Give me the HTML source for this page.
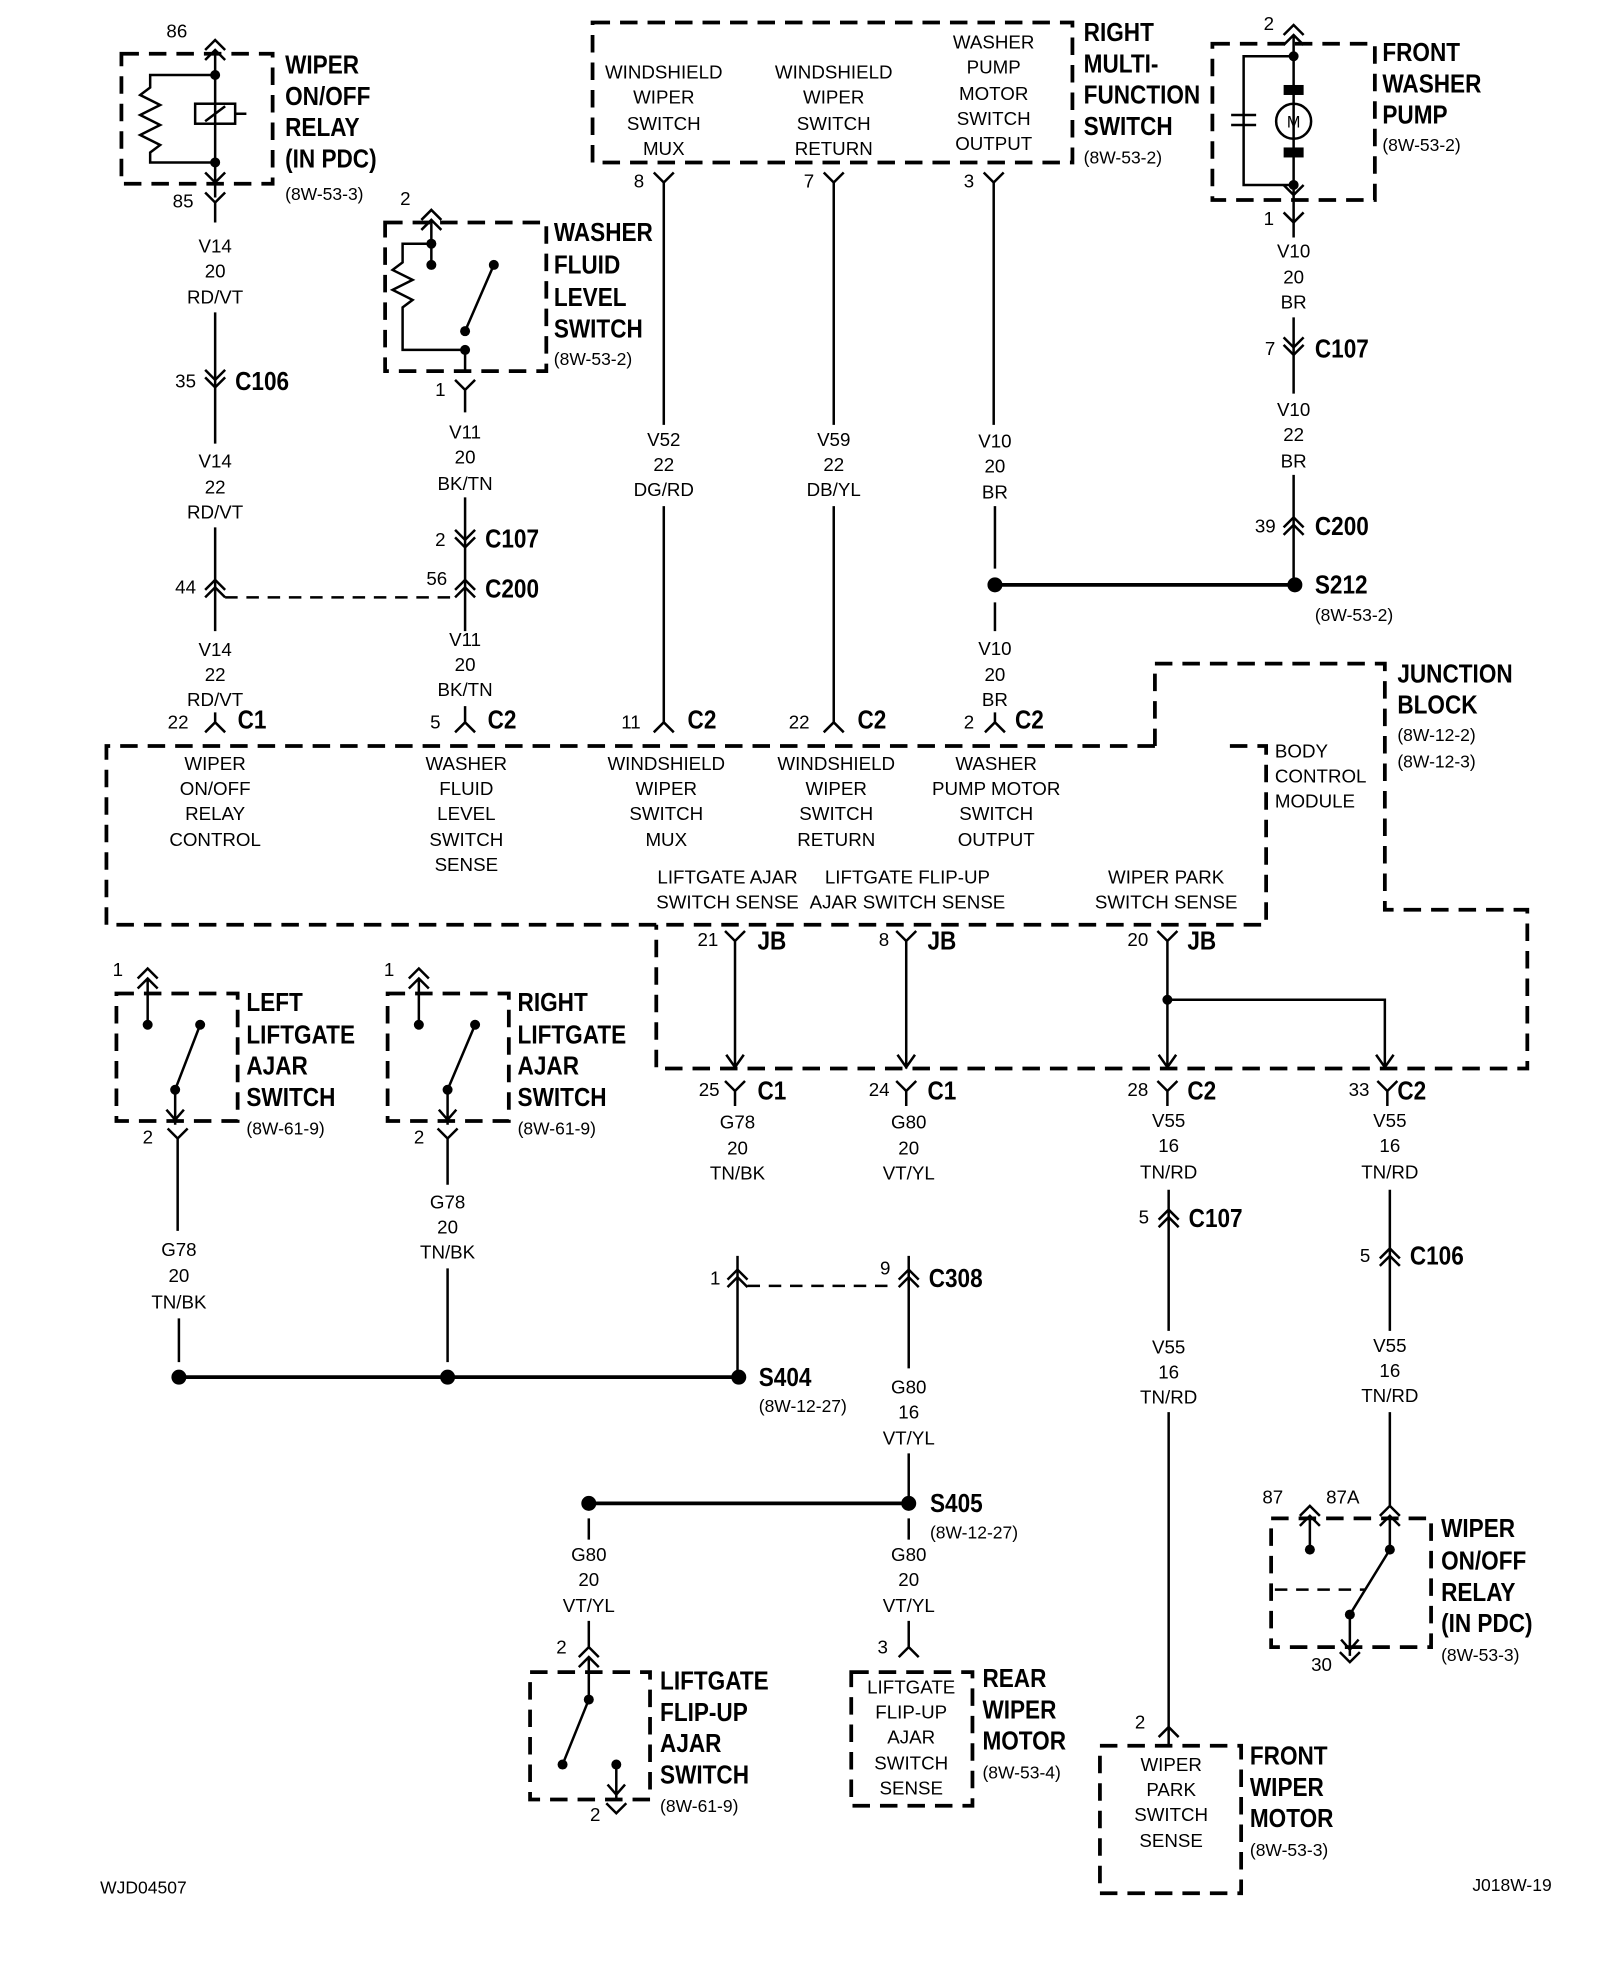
<!DOCTYPE html>
<html><head><meta charset="utf-8"><style>
html,body{margin:0;padding:0;background:#fff}
svg{display:block}
text{font-family:"Liberation Sans Narrow","Liberation Sans",sans-serif;fill:#000}
.n{font-size:15px;text-anchor:middle}
.l{font-size:15px}
.b{font-size:21px;font-weight:bold;transform-box:fill-box;transform-origin:0 0;transform:scaleX(.86)}
.r{font-size:14px}
.w{stroke:#000;stroke-width:2;fill:none}
.d{stroke:#000;stroke-width:3;fill:none;stroke-dasharray:14 8}
.dd{stroke:#000;stroke-width:2;fill:none;stroke-dasharray:10 7}
</style></head><body>
<svg width="1600" height="1962" viewBox="0 0 1280 1570" xmlns="http://www.w3.org/2000/svg">
<!-- WIPER RELAY TOP -->
<rect x="97" y="43" width="121" height="104" class="d"/>
<text class="b" x="228" y="59">WIPER</text><text class="b" x="228" y="84">ON/OFF</text><text class="b" x="228" y="109">RELAY</text><text class="b" x="228" y="134">(IN PDC)</text><text class="r" x="228" y="160">(8W-53-3)</text>
<text class="l" x="133" y="30">86</text><path class="w" d="M164 40 L172 32 L180 40 M164 48 L172 40 L180 48 M172 40 V158"/>
<circle cx="172" cy="60" r="4"/><circle cx="172" cy="130" r="4"/>
<path class="w" d="M172 60 H120 V70 l-8 6 l16 8 l-16 8 l16 8 l-16 8 l16 8 l-8 6 V130 H172"/>
<rect x="156" y="83" width="32" height="16" class="w"/><path class="w" d="M164 97 L180 85 M188 91 H197"/>
<path class="w" d="M164 138 L172 146 L180 138"/>
<text class="l" x="138" y="166">85</text><path class="w" d="M164 154 L172 162 L180 154 M172 162 V178"/>
<text class="n" x="172" y="202">V14</text><text class="n" x="172" y="222">20</text><text class="n" x="172" y="243">RD/VT</text>
<path class="w" d="M172 250 V355"/>
<text class="l" x="140" y="310">35</text><path class="w" d="M164 296 L172 304 L180 296 M164 302 L172 310 L180 302"/><text class="b" x="188" y="312">C106</text>
<text class="n" x="172" y="374">V14</text><text class="n" x="172" y="395">22</text><text class="n" x="172" y="415">RD/VT</text>
<path class="w" d="M172 422 V505"/>
<text class="l" x="140" y="475">44</text><path class="w" d="M164 472 L172 464 L180 472 M164 478 L172 470 L180 478"/>
<path class="dd" d="M180 478 H365"/>
<text class="n" x="172" y="525">V14</text><text class="n" x="172" y="545">22</text><text class="n" x="172" y="565">RD/VT</text>
<text class="l" x="134" y="583">22</text><path class="w" d="M172 570 V578 M164 586 L172 578 L180 586"/><text class="b" x="190" y="583">C1</text>
<!-- WASHER FLUID -->
<rect x="308" y="178" width="129" height="119" class="d"/>
<text class="b" x="443" y="193">WASHER</text><text class="b" x="443" y="219">FLUID</text><text class="b" x="443" y="245">LEVEL</text><text class="b" x="443" y="270">SWITCH</text><text class="r" x="443" y="292">(8W-53-2)</text>
<text class="l" x="320" y="164">2</text><path class="w" d="M337 176 L345 168 L353 176 M337 184 L345 176 L353 184 M345 176 V212"/>
<circle cx="345" cy="195" r="4"/><circle cx="345" cy="212" r="4"/><circle cx="395" cy="212" r="4"/><circle cx="372" cy="265" r="4"/><circle cx="372" cy="280" r="4"/>
<path class="w" d="M345 195 H322 V210 l-8 6 l16 8 l-16 8 l16 8 l-8 6 V280 H372 V297 M372 265 L395 212"/>
<text class="l" x="348" y="317">1</text><path class="w" d="M364 304 L372 312 L380 304 M372 312 V330"/>
<text class="n" x="372" y="351">V11</text><text class="n" x="372" y="371">20</text><text class="n" x="372" y="392">BK/TN</text>
<path class="w" d="M372 398 V505"/>
<text class="l" x="348" y="437">2</text><path class="w" d="M364 424 L372 432 L380 424 M364 430 L372 438 L380 430"/><text class="b" x="388" y="438">C107</text>
<text class="l" x="341" y="468">56</text><path class="w" d="M364 472 L372 464 L380 472 M364 478 L372 470 L380 478"/><text class="b" x="388" y="478">C200</text>
<text class="n" x="372" y="517">V11</text><text class="n" x="372" y="537">20</text><text class="n" x="372" y="557">BK/TN</text>
<text class="l" x="344" y="583">5</text><path class="w" d="M372 565 V578 M364 586 L372 578 L380 586"/><text class="b" x="390" y="583">C2</text>
<!-- RIGHT MFS -->
<rect x="474" y="18" width="384" height="112" class="d"/>
<g class="n"><text class="n" x="531" y="63">WINDSHIELD</text><text class="n" x="531" y="83">WIPER</text><text class="n" x="531" y="104">SWITCH</text><text class="n" x="531" y="124">MUX</text>
<text class="n" x="667" y="63">WINDSHIELD</text><text class="n" x="667" y="83">WIPER</text><text class="n" x="667" y="104">SWITCH</text><text class="n" x="667" y="124">RETURN</text>
<text class="n" x="795" y="39">WASHER</text><text class="n" x="795" y="59">PUMP</text><text class="n" x="795" y="80">MOTOR</text><text class="n" x="795" y="100">SWITCH</text><text class="n" x="795" y="120">OUTPUT</text></g>
<text class="b" x="867" y="33">RIGHT</text><text class="b" x="867" y="58">MULTI-</text><text class="b" x="867" y="83">FUNCTION</text><text class="b" x="867" y="108">SWITCH</text><text class="r" x="867" y="131">(8W-53-2)</text>
<text class="l" x="507" y="150">8</text><path class="w" d="M523 138 L531 146 L539 138 M531 146 V340"/>
<text class="l" x="643" y="150">7</text><path class="w" d="M659 138 L667 146 L675 138 M667 146 V340"/>
<text class="l" x="771" y="150">3</text><path class="w" d="M787 138 L795 146 L803 138 M795 146 V340"/>
<text class="n" x="531" y="357">V52</text><text class="n" x="531" y="377">22</text><text class="n" x="531" y="397">DG/RD</text>
<text class="n" x="667" y="357">V59</text><text class="n" x="667" y="377">22</text><text class="n" x="667" y="397">DB/YL</text>
<text class="n" x="796" y="358">V10</text><text class="n" x="796" y="378">20</text><text class="n" x="796" y="399">BR</text>
<path class="w" d="M531 405 V578 M667 405 V578 M796 405 V455 M796 482 V505"/>
<circle cx="796" cy="468" r="6"/><circle cx="1036" cy="468" r="6"/><path d="M796 468 H1036" stroke="#000" stroke-width="3"/>
<text class="b" x="1052" y="475">S212</text><text class="r" x="1052" y="497">(8W-53-2)</text>
<text class="n" x="796" y="524">V10</text><text class="n" x="796" y="545">20</text><text class="n" x="796" y="565">BR</text>
<text class="l" x="497" y="583">11</text><path class="w" d="M523 586 L531 578 L539 586"/><text class="b" x="550" y="583">C2</text>
<text class="l" x="631" y="583">22</text><path class="w" d="M659 586 L667 578 L675 586"/><text class="b" x="686" y="583">C2</text>
<text class="l" x="771" y="583">2</text><path class="w" d="M796 570 V578 M788 586 L796 578 L804 586"/><text class="b" x="812" y="583">C2</text>
<!-- FRONT WASHER PUMP -->
<rect x="970" y="35" width="130" height="125" class="d"/>
<text class="b" x="1106" y="49">FRONT</text><text class="b" x="1106" y="74">WASHER</text><text class="b" x="1106" y="99">PUMP</text><text class="r" x="1106" y="121">(8W-53-2)</text>
<text class="l" x="1011" y="24">2</text><path class="w" d="M1027 28 L1035 20 L1043 28 M1027 36 L1035 28 L1043 36 M1035 28 V190"/>
<circle cx="1035" cy="45" r="4"/><circle cx="1035" cy="148" r="4"/>
<path class="w" d="M1035 45 H995 V148 H1035"/><path class="w" d="M985 92 H1005 M985 100 H1005" stroke-width="2.5"/>
<rect x="1027" y="68" width="16" height="8"/><rect x="1027" y="118" width="16" height="8"/>
<circle cx="1035" cy="97" r="14" fill="#fff" class="w"/><text x="1035" y="102" class="n" style="font-size:13px">M</text>
<path class="w" d="M1027 148 L1035 156 L1043 148"/>
<text class="l" x="1011" y="180">1</text><path class="w" d="M1027 170 L1035 178 L1043 170"/>
<text class="n" x="1035" y="206">V10</text><text class="n" x="1035" y="227">20</text><text class="n" x="1035" y="247">BR</text>
<path class="w" d="M1035 254 V315"/>
<text class="l" x="1012" y="284">7</text><path class="w" d="M1027 270 L1035 278 L1043 270 M1027 276 L1035 284 L1043 276"/><text class="b" x="1052" y="286">C107</text>
<text class="n" x="1035" y="333">V10</text><text class="n" x="1035" y="353">22</text><text class="n" x="1035" y="374">BR</text>
<path class="w" d="M1035 380 V468"/>
<text class="l" x="1004" y="426">39</text><path class="w" d="M1027 422 L1035 414 L1043 422 M1027 428 L1035 420 L1043 428"/><text class="b" x="1052" y="428">C200</text>
<!-- BCM -->
<path class="d" d="M924 597 H85 V740 H1013 V597 H980"/>
<g><text class="n" x="172" y="616">WIPER</text><text class="n" x="172" y="636">ON/OFF</text><text class="n" x="172" y="656">RELAY</text><text class="n" x="172" y="677">CONTROL</text>
<text class="n" x="373" y="616">WASHER</text><text class="n" x="373" y="636">FLUID</text><text class="n" x="373" y="656">LEVEL</text><text class="n" x="373" y="677">SWITCH</text><text class="n" x="373" y="697">SENSE</text>
<text class="n" x="533" y="616">WINDSHIELD</text><text class="n" x="533" y="636">WIPER</text><text class="n" x="533" y="656">SWITCH</text><text class="n" x="533" y="677">MUX</text>
<text class="n" x="669" y="616">WINDSHIELD</text><text class="n" x="669" y="636">WIPER</text><text class="n" x="669" y="656">SWITCH</text><text class="n" x="669" y="677">RETURN</text>
<text class="n" x="797" y="616">WASHER</text><text class="n" x="797" y="636">PUMP MOTOR</text><text class="n" x="797" y="656">SWITCH</text><text class="n" x="797" y="677">OUTPUT</text>
<text class="n" x="582" y="707">LIFTGATE AJAR</text><text class="n" x="582" y="727">SWITCH SENSE</text>
<text class="n" x="726" y="707">LIFTGATE FLIP-UP</text><text class="n" x="726" y="727">AJAR SWITCH SENSE</text>
<text class="n" x="933" y="707">WIPER PARK</text><text class="n" x="933" y="727">SWITCH SENSE</text></g>
<text class="l" x="1020" y="606">BODY</text><text class="l" x="1020" y="626">CONTROL</text><text class="l" x="1020" y="646">MODULE</text>
<!-- JUNCTION BLOCK -->
<path class="d" d="M924 597 V531 H1108 V728 H1222 V855 H525 V740"/>
<text class="b" x="1118" y="546">JUNCTION</text><text class="b" x="1118" y="571">BLOCK</text><text class="r" x="1118" y="593">(8W-12-2)</text><text class="r" x="1118" y="614">(8W-12-3)</text>
<text class="l" x="558" y="757">21</text><path class="w" d="M580 745 L588 753 L596 745 M588 753 V855 M581 844 L588 854 L595 844"/><text class="b" x="606" y="760">JB</text>
<text class="l" x="703" y="757">8</text><path class="w" d="M717 745 L725 753 L733 745 M725 753 V855 M718 844 L725 854 L732 844"/><text class="b" x="742" y="760">JB</text>
<text class="l" x="902" y="757">20</text><path class="w" d="M926 745 L934 753 L942 745 M934 753 V855 M927 844 L934 854 L941 844 M934 800 H1108 V855 M1101 844 L1108 854 L1115 844"/><circle cx="934" cy="800" r="4"/><text class="b" x="950" y="760">JB</text>
<text class="l" x="559" y="877">25</text><path class="w" d="M580 865 L588 873 L596 865 M588 873 V885"/><text class="b" x="606" y="880">C1</text>
<text class="l" x="695" y="877">24</text><path class="w" d="M717 865 L725 873 L733 865 M725 873 V885"/><text class="b" x="742" y="880">C1</text>
<text class="l" x="902" y="877">28</text><path class="w" d="M926 865 L934 873 L942 865 M934 873 V885"/><text class="b" x="950" y="880">C2</text>
<text class="l" x="1079" y="877">33</text><path class="w" d="M1102 865 L1110 873 L1118 865 M1110 873 V885"/><text class="b" x="1118" y="880">C2</text>
<text class="n" x="590" y="903">G78</text><text class="n" x="590" y="924">20</text><text class="n" x="590" y="944">TN/BK</text>
<text class="n" x="727" y="903">G80</text><text class="n" x="727" y="924">20</text><text class="n" x="727" y="944">VT/YL</text>
<text class="n" x="935" y="902">V55</text><text class="n" x="935" y="922">16</text><text class="n" x="935" y="943">TN/RD</text>
<text class="n" x="1112" y="902">V55</text><text class="n" x="1112" y="922">16</text><text class="n" x="1112" y="943">TN/RD</text>
<path class="w" d="M590 1005 V1102 M727 1005 V1095 M935 952 V1065 M1112 952 V1065"/>
<text class="l" x="568" y="1028">1</text><path class="w" d="M582 1024 L590 1016 L598 1024 M582 1030 L590 1022 L598 1030"/>
<path class="dd" d="M598 1029 H712"/>
<text class="l" x="704" y="1020">9</text><path class="w" d="M719 1024 L727 1016 L735 1024 M719 1030 L727 1022 L735 1030"/><text class="b" x="743" y="1030">C308</text>
<text class="l" x="911" y="979">5</text><path class="w" d="M927 976 L935 968 L943 976 M927 982 L935 974 L943 982"/><text class="b" x="951" y="982">C107</text>
<text class="l" x="1088" y="1010">5</text><path class="w" d="M1104 1007 L1112 999 L1120 1007 M1104 1013 L1112 1005 L1120 1013"/><text class="b" x="1128" y="1012">C106</text>
<text class="n" x="935" y="1083">V55</text><text class="n" x="935" y="1103">16</text><text class="n" x="935" y="1123">TN/RD</text>
<text class="n" x="1112" y="1082">V55</text><text class="n" x="1112" y="1102">16</text><text class="n" x="1112" y="1122">TN/RD</text>
<path class="w" d="M935 1130 V1397 M1112 1130 V1205"/>
<!-- LEFT/RIGHT LIFTGATE -->
<rect x="93" y="795" width="97" height="102" class="d"/>
<text class="l" x="90" y="781">1</text><path class="w" d="M110 783 L118 775 L126 783 M110 791 L118 783 L126 791 M118 783 V820"/><circle cx="118" cy="820" r="4"/>
<circle cx="160" cy="820" r="4"/><circle cx="140" cy="872" r="4"/><path class="w" d="M140 872 L160 820 M140 872 V900 M133 888 L140 896 L147 888"/>
<text class="b" x="197" y="809">LEFT</text><text class="b" x="197" y="835">LIFTGATE</text><text class="b" x="197" y="860">AJAR</text><text class="b" x="197" y="885">SWITCH</text><text class="r" x="197" y="908">(8W-61-9)</text>
<text class="l" x="114" y="915">2</text><path class="w" d="M134 903 L142 911 L150 903 M142 911 V985"/>
<rect x="310" y="795" width="97" height="102" class="d"/>
<text class="l" x="307" y="781">1</text><path class="w" d="M327 783 L335 775 L343 783 M327 791 L335 783 L343 791 M335 783 V820"/><circle cx="335" cy="820" r="4"/>
<circle cx="380" cy="820" r="4"/><circle cx="358" cy="872" r="4"/><path class="w" d="M358 872 L380 820 M358 872 V900 M351 888 L358 896 L365 888"/>
<text class="b" x="414" y="809">RIGHT</text><text class="b" x="414" y="835">LIFTGATE</text><text class="b" x="414" y="860">AJAR</text><text class="b" x="414" y="885">SWITCH</text><text class="r" x="414" y="908">(8W-61-9)</text>
<text class="l" x="331" y="915">2</text><path class="w" d="M350 903 L358 911 L366 903 M358 911 V948"/>
<text class="n" x="143" y="1005">G78</text><text class="n" x="143" y="1026">20</text><text class="n" x="143" y="1047">TN/BK</text>
<text class="n" x="358" y="967">G78</text><text class="n" x="358" y="987">20</text><text class="n" x="358" y="1007">TN/BK</text>
<path class="w" d="M143 1055 V1090 M358 1015 V1090"/>
<path d="M143 1102 H591" stroke="#000" stroke-width="3"/><circle cx="143" cy="1102" r="6"/><circle cx="358" cy="1102" r="6"/><circle cx="591" cy="1102" r="6"/>
<text class="b" x="607" y="1109">S404</text><text class="r" x="607" y="1130">(8W-12-27)</text>
<text class="n" x="727" y="1115">G80</text><text class="n" x="727" y="1135">16</text><text class="n" x="727" y="1156">VT/YL</text>
<path class="w" d="M727 1163 V1203"/>
<path d="M471 1203 H727" stroke="#000" stroke-width="3"/><circle cx="471" cy="1203" r="6"/><circle cx="727" cy="1203" r="6"/>
<text class="b" x="744" y="1210">S405</text><text class="r" x="744" y="1231">(8W-12-27)</text>
<path class="w" d="M471 1215 V1232 M727 1215 V1232"/>
<text class="n" x="471" y="1249">G80</text><text class="n" x="471" y="1269">20</text><text class="n" x="471" y="1290">VT/YL</text>
<text class="n" x="727" y="1249">G80</text><text class="n" x="727" y="1269">20</text><text class="n" x="727" y="1290">VT/YL</text>
<!-- LIFTGATE FLIP-UP -->
<text class="l" x="445" y="1323">2</text><path class="w" d="M471 1297 V1318 M463 1326 L471 1318 L479 1326 M463 1334 L471 1326 L479 1334 M471 1326 V1360"/>
<rect x="424" y="1338" width="96" height="102" class="d"/>
<circle cx="471" cy="1360" r="4"/><circle cx="450" cy="1412" r="4"/><path class="w" d="M450 1412 L471 1360 M493 1412 V1440 M486 1428 L493 1436 L500 1428"/><circle cx="493" cy="1412" r="4"/>
<text class="l" x="472" y="1457">2</text><path class="w" d="M485 1443 L493 1451 L501 1443"/>
<text class="b" x="528" y="1352">LIFTGATE</text><text class="b" x="528" y="1377">FLIP-UP</text><text class="b" x="528" y="1402">AJAR</text><text class="b" x="528" y="1427">SWITCH</text><text class="r" x="528" y="1450">(8W-61-9)</text>
<!-- REAR WIPER MOTOR -->
<text class="l" x="702" y="1323">3</text><path class="w" d="M727 1297 V1318 M719 1326 L727 1318 L735 1326"/>
<rect x="681" y="1338" width="97" height="107" class="d"/>
<text class="n" x="729" y="1355">LIFTGATE</text><text class="n" x="729" y="1375">FLIP-UP</text><text class="n" x="729" y="1395">AJAR</text><text class="n" x="729" y="1416">SWITCH</text><text class="n" x="729" y="1436">SENSE</text>
<text class="b" x="786" y="1350">REAR</text><text class="b" x="786" y="1375">WIPER</text><text class="b" x="786" y="1400">MOTOR</text><text class="r" x="786" y="1423">(8W-53-4)</text>
<!-- WIPER RELAY BOTTOM -->
<rect x="1017" y="1215" width="128" height="103" class="d"/>
<text class="l" x="1010" y="1203">87</text><text class="l" x="1061" y="1203">87A</text>
<path class="w" d="M1040 1213 L1048 1205 L1056 1213 M1040 1221 L1048 1213 L1056 1221 M1048 1213 V1240"/><circle cx="1048" cy="1240" r="4"/>
<path class="w" d="M1104 1213 L1112 1205 L1120 1213 M1104 1221 L1112 1213 L1120 1221 M1112 1213 V1240"/><circle cx="1112" cy="1240" r="4"/>
<path class="w" d="M1080 1292 L1112 1240 M1080 1292 V1325 M1073 1312 L1080 1320 L1087 1312"/><circle cx="1080" cy="1292" r="4"/>
<path class="dd" d="M1020 1272 H1092"/>
<text class="l" x="1049" y="1337">30</text><path class="w" d="M1072 1322 L1080 1330 L1088 1322"/>
<text class="b" x="1153" y="1230">WIPER</text><text class="b" x="1153" y="1256">ON/OFF</text><text class="b" x="1153" y="1281">RELAY</text><text class="b" x="1153" y="1306">(IN PDC)</text><text class="r" x="1153" y="1329">(8W-53-3)</text>
<!-- FRONT WIPER MOTOR -->
<text class="l" x="908" y="1383">2</text><path class="w" d="M927 1390 L935 1382 L943 1390"/>
<rect x="880" y="1397" width="113" height="118" class="d"/>
<text class="n" x="937" y="1417">WIPER</text><text class="n" x="937" y="1437">PARK</text><text class="n" x="937" y="1457">SWITCH</text><text class="n" x="937" y="1478">SENSE</text>
<text class="b" x="1000" y="1412">FRONT</text><text class="b" x="1000" y="1437">WIPER</text><text class="b" x="1000" y="1462">MOTOR</text><text class="r" x="1000" y="1485">(8W-53-3)</text>
<text class="r" x="80" y="1515">WJD04507</text><text class="r" x="1178" y="1513">J018W-19</text>
</svg>
</body></html>
